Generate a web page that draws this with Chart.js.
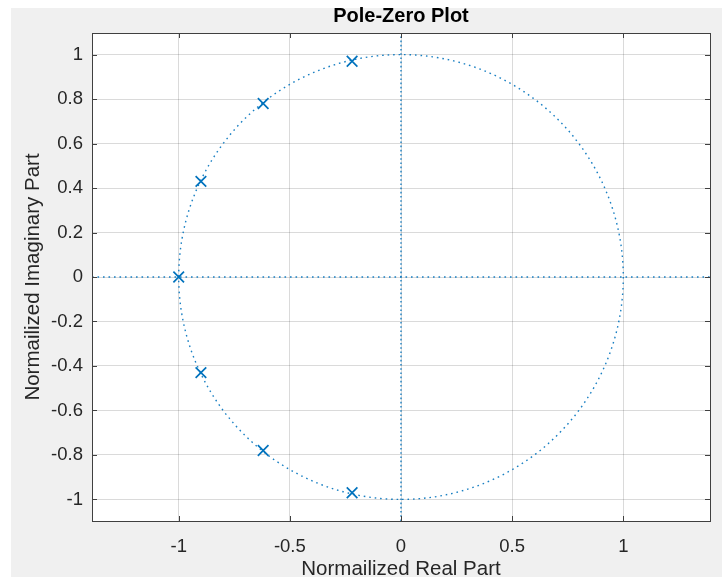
<!DOCTYPE html>
<html>
<head>
<meta charset="utf-8">
<script src="https://cdn.jsdelivr.net/npm/chart.js@4.4.1/dist/chart.umd.min.js"></script>
<style>
  html, body { margin: 0; padding: 0; background: #ffffff; }
  #wrap { width: 722px; height: 577px; }
</style>
</head>
<body>
<div id="wrap"><canvas id="pz" width="722" height="577"></canvas></div>
<script>
// pole positions
const realPart = [-0.22, -0.62, -0.90, -1.00, -0.90, -0.62, -0.22];
const imagPart = [0.97, 0.78, 0.43, 0.00, -0.43, -0.78, -0.97];

const xTicks = [-1, -0.5, 0, 0.5, 1];
const yTicks = [-1, -0.8, -0.6, -0.4, -0.2, 0, 0.2, 0.4, 0.6, 0.8, 1];
const xLimits = [-1.39, 1.39];
const yLimits = [-1.097, 1.097];
const unitRadius = 1;

const blue = '#0072BD';
const dotted = 'rgba(0, 114, 189, 0.9)';
const fontFamily = '"Liberation Sans", Arial, Helvetica, sans-serif';

const poles = realPart.map((x, i) => ({ x: x, y: imagPart[i] }));

// white frame, grey figure, white axes
const backdrop = {
  id: 'backdrop',
  beforeDraw(chart) {
    const { ctx, chartArea: a } = chart;
    ctx.save();
    ctx.fillStyle = '#ffffff';
    ctx.fillRect(0, 0, chart.width, chart.height);
    ctx.fillStyle = '#f0f0f0';
    ctx.fillRect(11, 8, chart.width - 11, chart.height - 8);
    ctx.fillStyle = '#ffffff';
    ctx.fillRect(a.left, a.top, a.right - a.left, a.bottom - a.top);
    ctx.restore();
  }
};

// dotted unit circle
const unitCircle = {
  id: 'unitCircle',
  beforeDatasetsDraw(chart) {
    const { ctx, scales: { x, y }, chartArea: a } = chart;
    const cx = x.getPixelForValue(0);
    const cy = y.getPixelForValue(0);
    const rx = x.getPixelForValue(unitRadius) - cx;
    const ry = cy - y.getPixelForValue(unitRadius);
    ctx.save();
    ctx.beginPath();
    ctx.rect(a.left, a.top, a.right - a.left, a.bottom - a.top);
    ctx.clip();
    ctx.strokeStyle = dotted;
    ctx.lineWidth = 1.4;
    ctx.setLineDash([1.6, 3.9]);
    ctx.beginPath();
    ctx.ellipse(cx, cy, rx, ry, 0, 0, Math.PI * 2);
    ctx.stroke();
    ctx.restore();
  }
};

// box with inward tick marks on all four sides
const axesBox = {
  id: 'axesBox',
  afterDraw(chart) {
    const { ctx, scales: { x, y }, chartArea: a } = chart;
    const len = 5;
    ctx.save();
    ctx.strokeStyle = '#404040';
    ctx.lineWidth = 1;
    ctx.beginPath();
    xTicks.forEach(v => {
      const px = Math.round(x.getPixelForValue(v)) + 0.5;
      ctx.moveTo(px, a.bottom); ctx.lineTo(px, a.bottom - len);
      ctx.moveTo(px, a.top); ctx.lineTo(px, a.top + len);
    });
    yTicks.forEach(v => {
      const py = Math.round(y.getPixelForValue(v)) + 0.5;
      ctx.moveTo(a.left, py); ctx.lineTo(a.left + len, py);
      ctx.moveTo(a.right, py); ctx.lineTo(a.right - len, py);
    });
    ctx.stroke();
    ctx.strokeRect(Math.round(a.left) + 0.5, Math.round(a.top) + 0.5,
      Math.round(a.right - a.left), Math.round(a.bottom - a.top));
    ctx.restore();
  }
};

const ctx = document.getElementById('pz').getContext('2d');

new Chart(ctx, {
  type: 'scatter',
  data: {
    datasets: [
      {
        label: 'Real axis',
        data: [{ x: xLimits[0], y: 0 }, { x: xLimits[1], y: 0 }],
        showLine: true,
        borderColor: dotted,
        borderWidth: 1.4,
        borderDash: [1.6, 3.9],
        pointRadius: 0
      },
      {
        label: 'Imaginary axis',
        data: [{ x: 0, y: yLimits[0] }, { x: 0, y: yLimits[1] }],
        showLine: true,
        borderColor: dotted,
        borderWidth: 1.4,
        borderDash: [1.6, 2.6],
        pointRadius: 0
      },
      {
        label: 'Poles',
        data: poles,
        showLine: false,
        pointStyle: 'crossRot',
        pointRadius: 7.5,
        pointBorderWidth: 1.7,
        pointBorderColor: blue,
        pointBackgroundColor: blue
      }
    ]
  },
  options: {
    responsive: false,
    animation: false,
    events: [],
    layout: { padding: { left: 0, top: 0, right: 12, bottom: 0 } },
    plugins: {
      legend: { display: false },
      tooltip: { enabled: false },
      title: {
        display: true,
        text: 'Pole-Zero Plot',
        fullSize: false,
        color: '#000000',
        font: { family: fontFamily, size: 20, weight: 'bold', lineHeight: 1.2 },
        padding: { top: 4, bottom: 5 }
      }
    },
    scales: {
      x: {
        type: 'linear',
        min: xLimits[0],
        max: xLimits[1],
        afterBuildTicks: s => { s.ticks = xTicks.map(v => ({ value: v })); },
        afterFit: s => { s.height = 56; },
        grid: { color: 'rgba(38, 38, 38, 0.17)', lineWidth: 1, drawTicks: false },
        border: { display: false },
        ticks: {
          padding: 15,
          color: '#262626',
          font: { family: fontFamily, size: 18.5 },
          callback: v => String(v)
        },
        title: {
          display: true,
          text: 'Normailized Real Part',
          color: '#262626',
          font: { family: fontFamily, size: 20.5, lineHeight: 1 },
          padding: { top: 0, bottom: -2.8 }
        }
      },
      y: {
        type: 'linear',
        min: yLimits[0],
        max: yLimits[1],
        afterBuildTicks: s => { s.ticks = yTicks.map(v => ({ value: v })); },
        afterFit: s => { s.width = 92; },
        grid: { color: 'rgba(38, 38, 38, 0.17)', lineWidth: 1, drawTicks: false },
        border: { display: false },
        ticks: {
          padding: 9,
          color: '#262626',
          font: { family: fontFamily, size: 18.5 },
          callback: v => String(v)
        },
        title: {
          display: true,
          text: 'Normailized Imaginary Part',
          color: '#262626',
          font: { family: fontFamily, size: 20.5, lineHeight: 1 },
          padding: { top: 23.3, bottom: 0 }
        }
      }
    }
  },
  plugins: [backdrop, unitCircle, axesBox]
});
</script>
</body>
</html>
